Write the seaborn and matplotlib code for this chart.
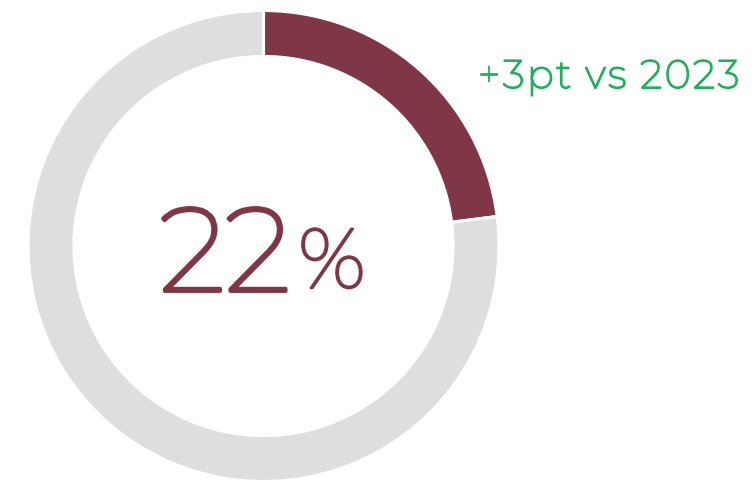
import matplotlib
matplotlib.use("Agg")
import matplotlib.pyplot as plt
import matplotlib.patheffects as pe
import seaborn as sns

# data
labels = ["2024", "rest"]
values = [23, 77]  # arc as drawn in the reference
big_number = "22"
delta_text = "+3pt vs 2023"

maroon = "#7f3646"
grey = "#dededf"
green = "#1db25a"

sns.set_theme(style="white")
plt.rcParams['font.family'] = ['Montserrat', 'Lato', 'DejaVu Sans']

fig = plt.figure(figsize=(7.55, 4.91), dpi=100)
# donut centre at (263.5, 246) px, outer radius 235.5 px
ax = fig.add_axes([28 / 755, 9.5 / 491, 471 / 755, 471 / 491])

ax.pie(values, colors=[maroon, grey], startangle=90, counterclock=False,
       radius=1, wedgeprops=dict(width=0.195, edgecolor="white", linewidth=2.2))
ax.set_xlim(-1, 1)
ax.set_ylim(-1, 1)
ax.axis("off")

# montserrat only comes as the thin variable face here, so thicken the strokes
def thicken(lw, color):
    return [pe.withStroke(linewidth=lw, foreground=color)]

# centre value
fig.text(291 / 755, 1 - 291 / 491, big_number, ha="right", va="baseline",
         fontsize=85, color=maroon, path_effects=thicken(2.8, maroon))
fig.text(298 / 755, 1 - 288 / 491, "%", ha="left", va="baseline",
         fontsize=61, color=maroon, path_effects=thicken(1.6, maroon))

# green note, drawn char by char with a little extra tracking (regular face is wider)
renderer = fig.canvas.get_renderer()
x_px = 478
tracking = 2.5
for ch in delta_text:
    t = fig.text(x_px / 755, 1 - 88 / 491, ch, ha="left", va="baseline",
                 fontsize=28.5, color=green, path_effects=thicken(1.3, green))
    if ch == " ":
        adv = 9
    else:
        adv = t.get_window_extent(renderer).width
    x_px += adv + tracking

fig.savefig("out.png", dpi=100)
